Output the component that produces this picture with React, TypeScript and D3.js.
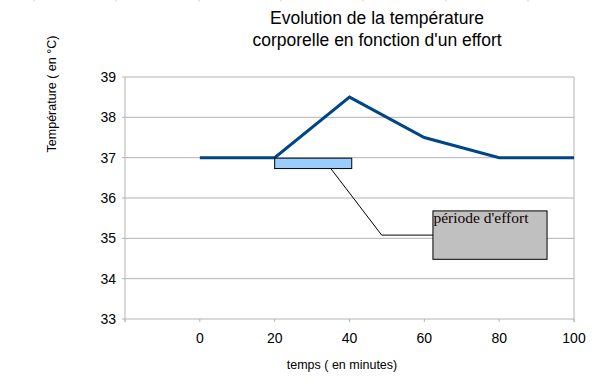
import React from "react";
import * as d3 from "d3";

const times = [0, 20, 40, 60, 80, 100];
const temperatures = [37, 37, 38.5, 37.5, 37, 37];
const xTicks = [-20, 0, 20, 40, 60, 80, 100];
const xTickLabels = ["", "0", "20", "40", "60", "80", "100"];
const yTicks = [33, 34, 35, 36, 37, 38, 39];
const titleLines = ["Evolution de la température", "corporelle en fonction d'un effort"];
const xTitle = "temps ( en minutes)";
const yTitle = "Température ( en °C)";
const annotationText = "période d'effort";
const effortPeriod = [20, 40.6];
const rulerMarks = [34, 116, 199, 281, 363, 446, 528];

export default function App() {
  const W = 603, H = 384;
  const left = 125, right = 574, top = 77, bottom = 319;
  const x = d3.scaleLinear().domain([-20, 100]).range([left, right]);
  const y = d3.scaleLinear().domain([33, 39]).range([bottom, top]);
  const line = d3.line<number>().x((_, i) => x(times[i])).y((d) => y(d));
  const grid = "#b3b3b3";
  const font = "'Liberation Sans', Arial, sans-serif";

  const rx0 = x(effortPeriod[0]);
  const rx1 = x(effortPeriod[1]);
  const ry0 = y(37) + 0.5;
  const ry1 = y(36.73);

  const boxX0 = x(62.3), boxX1 = x(92.8);
  const boxY0 = y(35.68), boxY1 = y(34.48);

  return (
    <svg width={W} height={H} style={{ position: "absolute", left: 0, top: 0, background: "#fff" }}>
      {rulerMarks.map((m) => (
        <line key={m} x1={m} x2={m} y1={0} y2={1.5} stroke="#c8c8c8" />
      ))}
      {titleLines.map((t, i) => (
        <text key={i} x={377} y={24 + i * 22} textAnchor="middle" fontFamily={font} fontSize={17.5} fill="#000">
          {t}
        </text>
      ))}
      {yTicks.map((t) => (
        <line key={t} x1={left - 3} x2={right} y1={y(t)} y2={y(t)} stroke={grid} strokeWidth={1} />
      ))}
      <line x1={left} x2={left} y1={top} y2={bottom + 3} stroke={grid} />
      <line x1={right} x2={right} y1={top} y2={bottom + 3} stroke={grid} />
      {xTicks.map((t) => (
        <line key={t} x1={x(t)} x2={x(t)} y1={bottom} y2={bottom + 3} stroke={grid} />
      ))}
      {yTicks.map((t) => (
        <text key={t} x={116} y={y(t)} dy="0.36em" textAnchor="end" fontFamily={font} fontSize={14} fill="#000">
          {t}
        </text>
      ))}
      {xTicks.map((t, i) => (
        <text key={t} x={x(t)} y={343} textAnchor="middle" fontFamily={font} fontSize={14} fill="#000">
          {xTickLabels[i]}
        </text>
      ))}
      <text x={342} y={369} textAnchor="middle" fontFamily={font} fontSize={12.5} fill="#000">
        {xTitle}
      </text>
      <text
        transform={`translate(56,94) rotate(-90)`}
        textAnchor="middle"
        fontFamily={font}
        fontSize={12.5}
        fill="#000"
      >
        {yTitle}
      </text>
      <path d={line(temperatures) || ""} fill="none" stroke="#004586" strokeWidth={3} strokeLinejoin="miter" />
      <rect x={rx0} y={ry0} width={rx1 - rx0} height={ry1 - ry0} fill="#99ccff" stroke="#000" strokeWidth={1} />
      <polyline
        points={`${x(35)},${ry1} ${x(48.6)},${y(35.08)} ${boxX0},${y(35.08)}`}
        fill="none"
        stroke="#000"
        strokeWidth={1}
      />
      <rect x={boxX0} y={boxY0} width={boxX1 - boxX0} height={boxY1 - boxY0} fill="#c0c0c0" stroke="#000" strokeWidth={1} />
      <text x={boxX0 + 0.5} y={222.5} fontFamily="'Liberation Serif', 'Times New Roman', serif" fontSize={15.5} fill="#110000">
        {annotationText}
      </text>
    </svg>
  );
}
